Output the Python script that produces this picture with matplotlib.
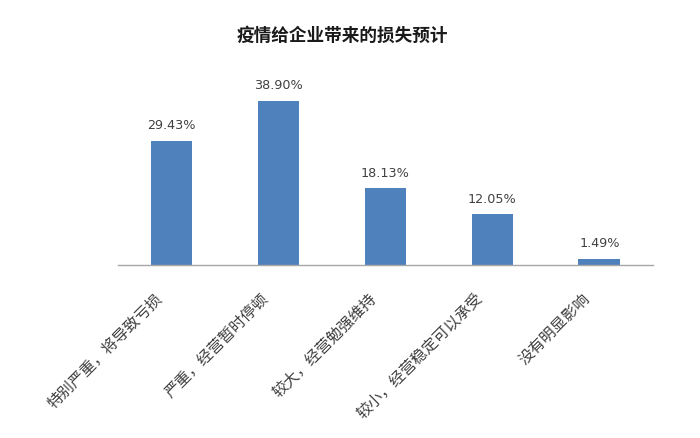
import matplotlib
matplotlib.use("Agg")
import matplotlib.pyplot as plt
from matplotlib.transforms import ScaledTranslation

plt.rcParams['font.family'] = ['Noto Sans CJK SC', 'DejaVu Sans']

categories = ["特别严重，将导致亏损", "严重，经营暂时停顿", "较大，经营勉强维持",
              "较小，经营稳定可以承受", "没有明显影响"]
values = [29.43, 38.90, 18.13, 12.05, 1.49]
value_labels = ["29.43%", "38.90%", "18.13%", "12.05%", "1.49%"]
title = "疫情给企业带来的损失预计"

fig = plt.figure(figsize=(7.0, 4.38), dpi=100)
ax = fig.add_axes([0.1686, 0.395, 0.764, 0.434])

x = list(range(len(categories)))
bars = ax.bar(x, values, width=0.39, color="#4F81BD", zorder=2)
ax.set_xlim(-0.5, len(categories) - 0.5)
ax.set_ylim(0, 45)

for b, lab in zip(bars, value_labels):
    ax.annotate(lab, (b.get_x() + b.get_width() / 2, b.get_height()),
                xytext=(0, 6), textcoords="offset points",
                ha="center", va="bottom", fontsize=9.2, color="#404040",
                family=["DejaVu Sans"])

ax.set_xticks(x)
ax.set_xticklabels(categories, rotation=45, ha="right", rotation_mode="anchor",
                   fontsize=11.2, color="#404040")
ax.tick_params(axis="x", length=0, pad=18)
ax.tick_params(axis="y", left=False, labelleft=False)
shift = ScaledTranslation(-13 / 72, 0, fig.dpi_scale_trans)
for t in ax.get_xticklabels():
    t.set_transform(t.get_transform() + shift)

for s in ["top", "right", "left"]:
    ax.spines[s].set_visible(False)
ax.spines["bottom"].set_color("#A6A6A6")
ax.spines["bottom"].set_linewidth(1.0)

fig.text(0.489, 0.918, title, ha="center", va="center", fontsize=12.7,
         fontweight="bold", color="#1a1a1a")

fig.savefig("out.png", dpi=100, facecolor="white")
